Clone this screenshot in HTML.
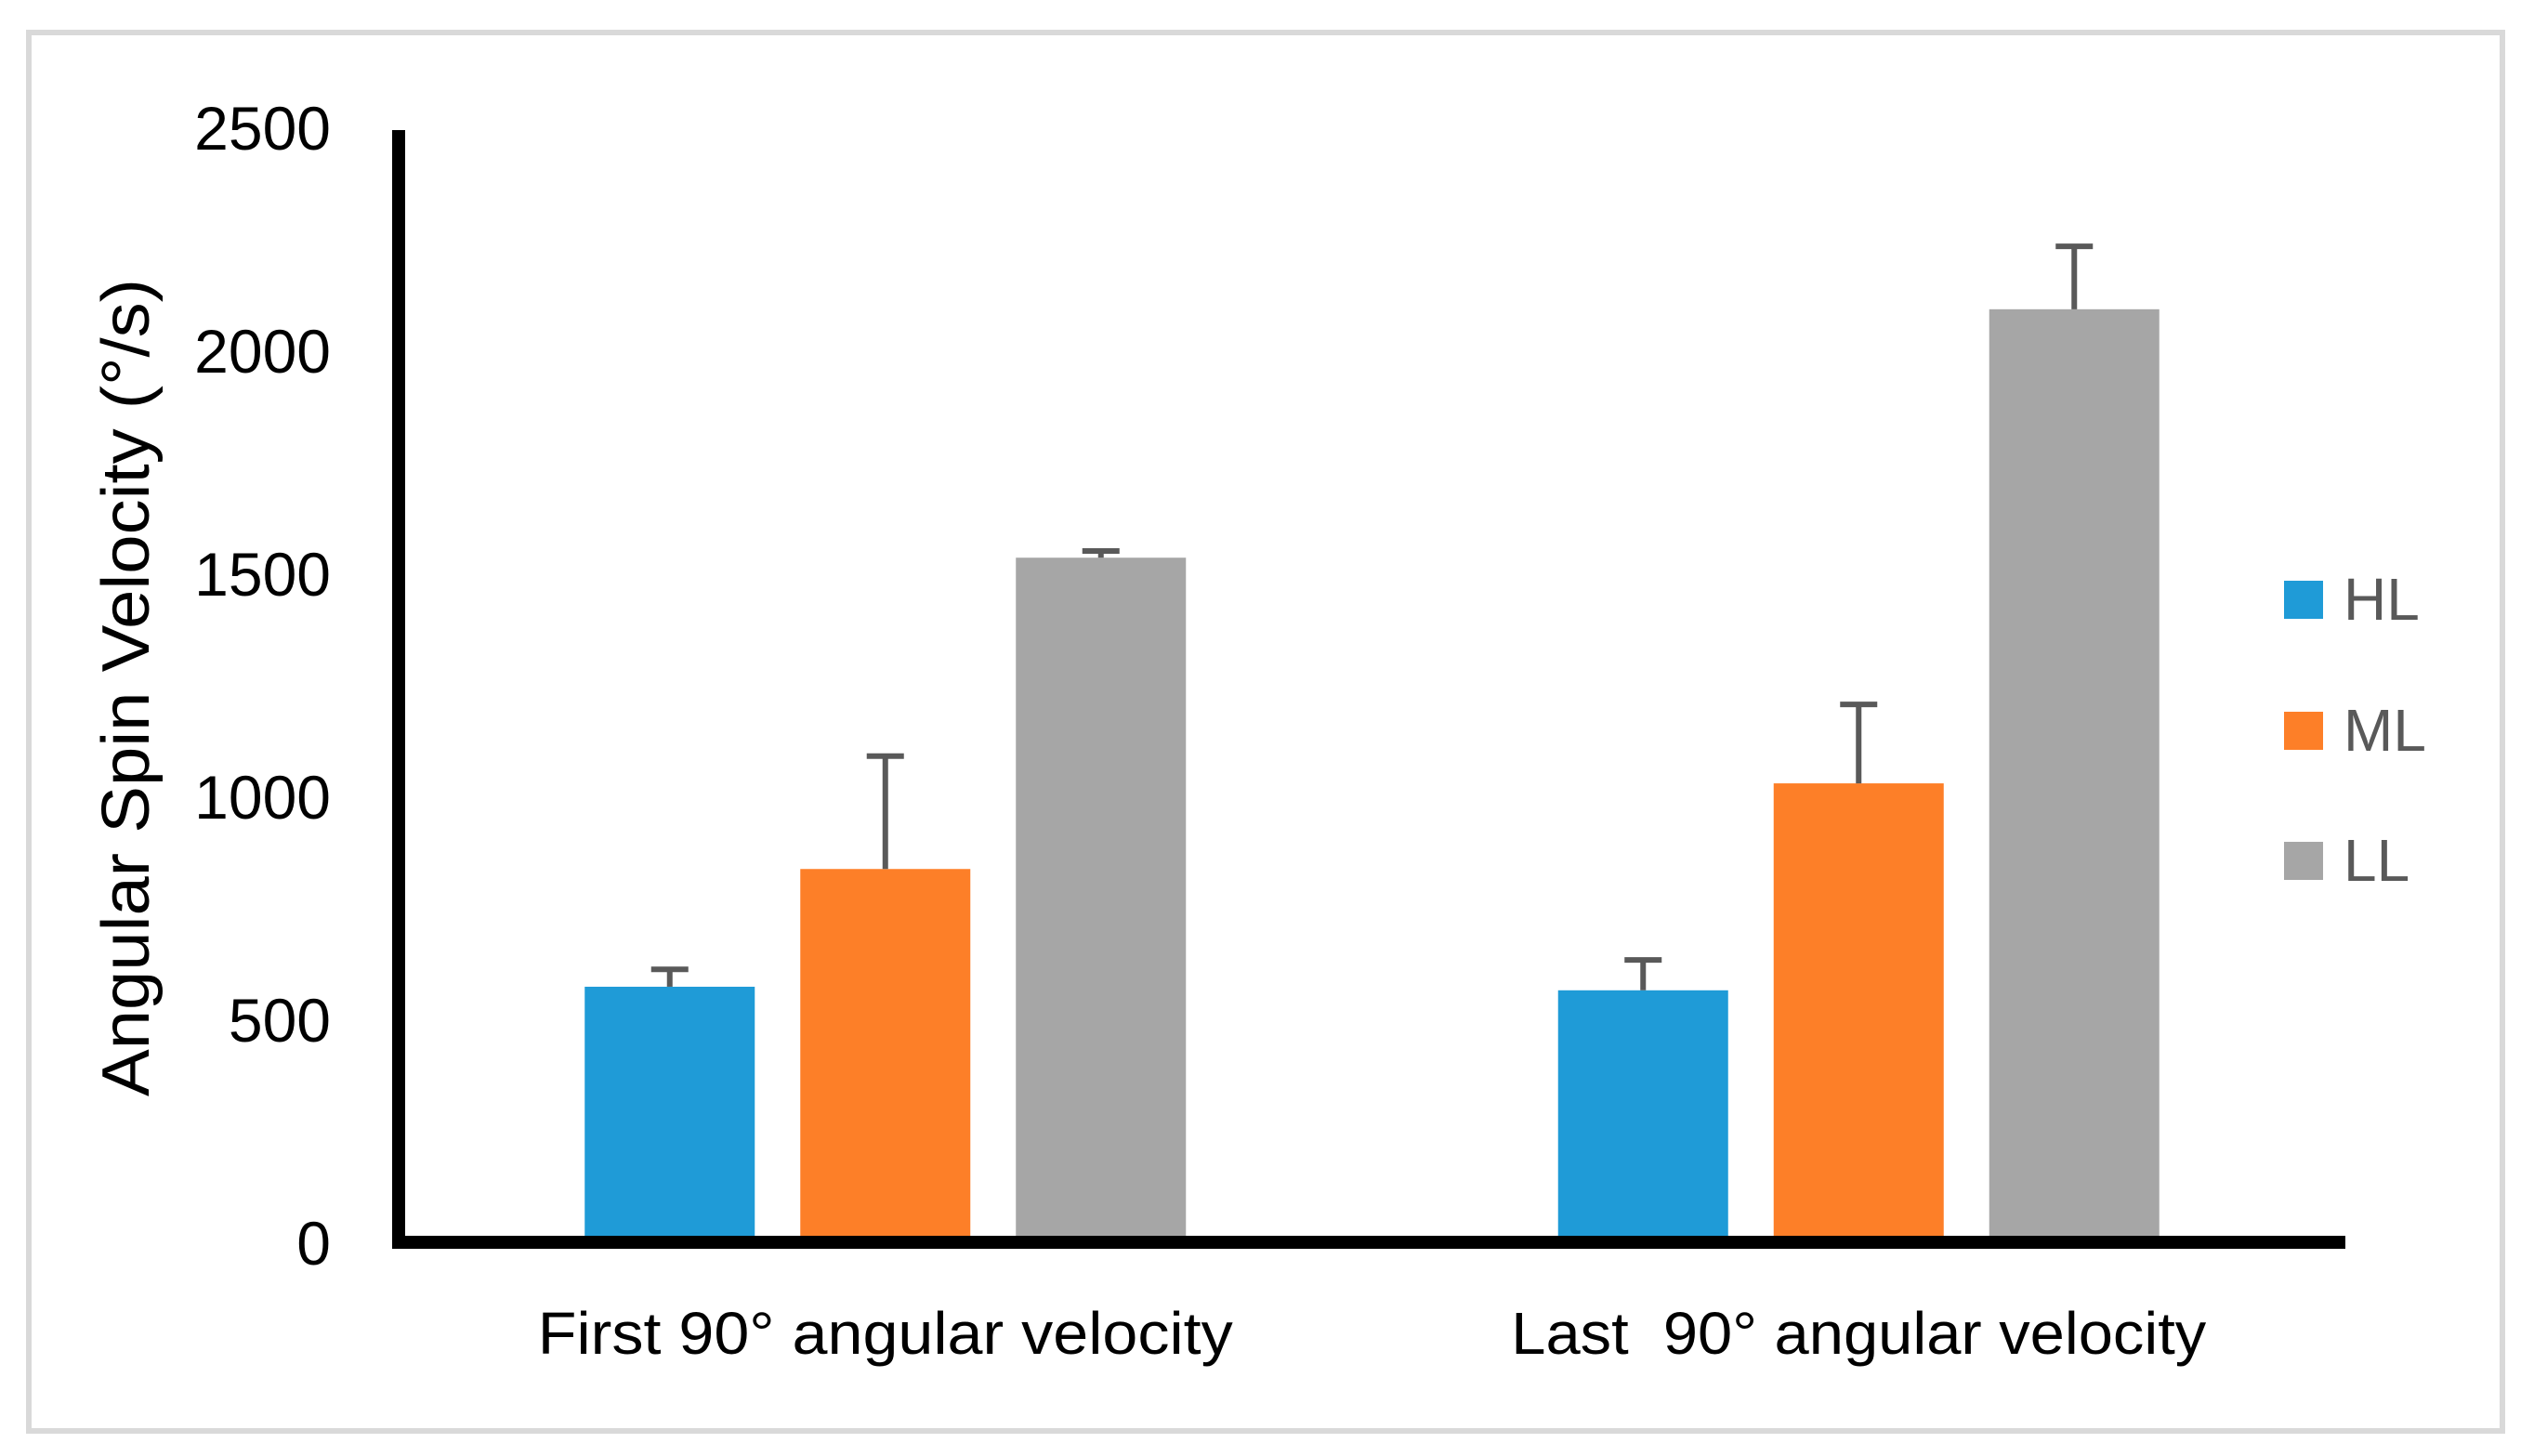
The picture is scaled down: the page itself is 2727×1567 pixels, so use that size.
<!DOCTYPE html>
<html><head><meta charset="utf-8"><style>
html,body{margin:0;padding:0;background:#fff}
svg{display:block}
text{font-family:"Liberation Sans",sans-serif}
</style></head><body>
<svg id="chart" width="2727" height="1567" viewBox="0 0 2727 1567" xmlns="http://www.w3.org/2000/svg">
<rect x="31" y="35" width="2662" height="1505" fill="#fff" stroke="#d9d9d9" stroke-width="6"/>
<g id="ticks"></g>
<text transform="translate(160,740) rotate(-90)" text-anchor="middle" font-size="72" textLength="880" lengthAdjust="spacingAndGlyphs" fill="#000">Angular Spin Velocity (°/s)</text>
<g id="bars"></g>
<g id="errs"></g>
<line x1="429" y1="140" x2="429" y2="1344" stroke="#000" stroke-width="14"/>
<line x1="422" y1="1337" x2="2524" y2="1337" stroke="#000" stroke-width="14"/>
<g id="xlabels"></g>
<g id="legend"></g>
</svg>
<script>
const categories = ["First 90° angular velocity", "Last  90° angular velocity"];
const seriesNames = ["HL", "ML", "LL"];
const seriesColors = ["#1f9bd7", "#fd7f28", "#a6a6a6"];
const hlValues = [573, 565];
const mlValues = [837, 1029];
const llValues = [1535, 2092];
const hlErr = [39, 68];
const mlErr = [253, 177];
const llErr = [15, 141];
const yTicks = [0, 500, 1000, 1500, 2000, 2500];

const NS = "http://www.w3.org/2000/svg";
const x0 = 429, x1 = 2524, yZero = 1337, yTop = 137, yMax = 2500;
function yScale(v){ return yZero - (v / yMax) * (yZero - yTop); }
const catW = (x1 - x0) / categories.length;
function catCenter(i){ return x0 + catW * (i + 0.5); }
const barW = 183, barStep = 232;
function barX(ci, si){ return catCenter(ci) + (si - 1) * barStep - barW / 2; }
function mk(tag, attrs, parent){ const e = document.createElementNS(NS, tag); for (const k in attrs) e.setAttribute(k, attrs[k]); parent.appendChild(e); return e; }

const ticksG = document.getElementById('ticks');
yTicks.forEach(t => {
  const el = mk('text', {x: 356, y: yScale(t) + 24, 'text-anchor': 'end', 'font-size': 66, fill: '#000'}, ticksG);
  
  
  el.textContent = t;
});

const values = [hlValues, mlValues, llValues];
const errs = [hlErr, mlErr, llErr];
const barsG = document.getElementById('bars');
const errG = document.getElementById('errs');
categories.forEach((c, ci) => {
  values.forEach((arr, si) => {
    const x = barX(ci, si), yv = yScale(arr[ci]);
    const r = mk('rect', {x: x, y: yv, width: barW, height: yZero - yv, fill: seriesColors[si]}, barsG);
    
    
    const cx = x + barW / 2, ye = yScale(arr[ci] + errs[si][ci]);
    const g = mk('g', {stroke: '#595959', 'stroke-width': 6}, errG);
    
    
    mk('line', {x1: cx, y1: yv, x2: cx, y2: ye}, g);
    mk('line', {x1: cx - 20, y1: ye, x2: cx + 20, y2: ye}, g);
  });
});

const xl = document.getElementById('xlabels');
categories.forEach((c, ci) => {
  const t = mk('text', {x: catCenter(ci), y: 1457, 'text-anchor': 'middle', 'font-size': 64, fill: '#000', textLength: 748, lengthAdjust: 'spacingAndGlyphs'}, xl);
  
  
  t.setAttribute('xml:space', 'preserve');
  t.style.whiteSpace = 'pre';
  t.textContent = c;
});

const lg = document.getElementById('legend');
const legY = [625, 766, 906];
seriesNames.forEach((n, i) => {
  const g = mk('g', {}, lg);
  
  
  mk('rect', {x: 2458, y: legY[i], width: 42, height: 41, fill: seriesColors[i]}, g);
  const t = mk('text', {x: 2522, y: legY[i] + 42, 'font-size': 64, fill: '#595959'}, g);
  t.textContent = n;
});
</script>
</body></html>
